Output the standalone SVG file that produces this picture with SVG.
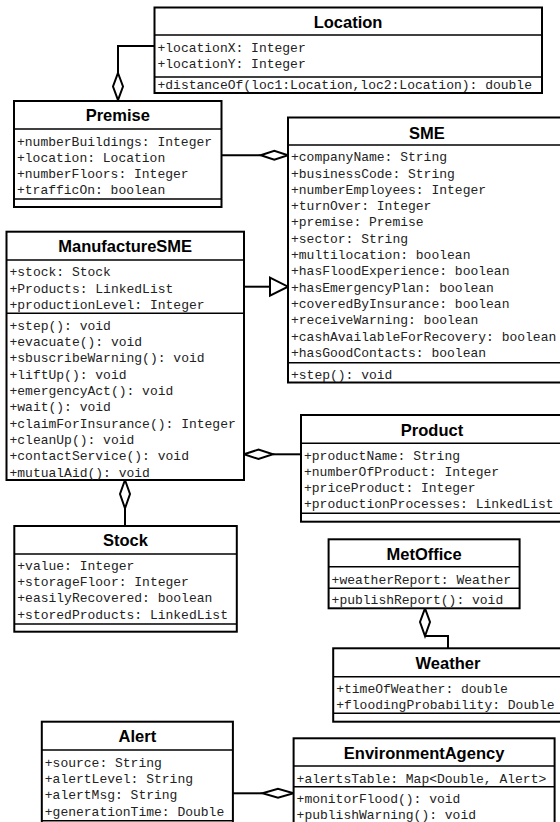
<svg xmlns="http://www.w3.org/2000/svg" width="560" height="822" viewBox="0 0 560 822">
<style>
.box{fill:#fff;stroke:#000;stroke-width:2}
.sep{stroke:#000;stroke-width:1.5;fill:none}
.t{font-family:"Liberation Sans",Arial,sans-serif;font-weight:bold;font-size:16.5px;text-anchor:middle;fill:#000}
.a{font-family:"Liberation Mono","Courier New",monospace;font-size:13px;fill:#222}
.ln{stroke:#000;stroke-width:2;fill:none}
.dia{fill:#fff;stroke:#000;stroke-width:2}
</style>
<rect width="560" height="822" fill="#fff"/>
<g id="connectors">
<polyline class="ln" points="154.5,46 118,46 118,73"/>
<polygon class="dia" points="118,73 123,86.5 118,100 113,86.5"/>
<line class="ln" x1="221.5" y1="155.3" x2="260.7" y2="155.3"/>
<polygon class="dia" points="260.7,155.3 274.3,150.8 288,155.3 274.3,159.8"/>
<line class="ln" x1="244" y1="286.7" x2="270" y2="286.7"/>
<polygon class="dia" points="270,277.7 288,286.7 270,295.7"/>
<polygon class="dia" points="244,454.3 258.5,449.6 273,454.3 258.5,459"/>
<line class="ln" x1="273" y1="454.3" x2="301" y2="454.3"/>
<polygon class="dia" points="125,480 130,494 125,508.3 120,494"/>
<line class="ln" x1="125" y1="508.3" x2="125" y2="526"/>
<polygon class="dia" points="425,608.3 430,622 425,636 420,622"/>
<polyline class="ln" points="425,636 448,636 448,648.3"/>
<line class="ln" x1="233" y1="793.3" x2="262.5" y2="793.3"/>
<polygon class="dia" points="262.5,793.3 278,788.8 293.6,793.3 278,797.8"/>
</g>
<g id="Location">
<rect class="box" x="154.5" y="7.5" width="387.5" height="85.5"/>
<line class="sep" x1="154.5" y1="35" x2="542" y2="35"/>
<line class="sep" x1="154.5" y1="77" x2="542" y2="77"/>
<text class="t" x="348" y="28">Location</text>
<text class="a" x="157.5" y="52">+locationX: Integer</text>
<text class="a" x="157.5" y="68">+locationY: Integer</text>
<text class="a" x="157.5" y="88.5">+distanceOf(loc1:Location,loc2:Location): double</text>
</g>
<g id="Premise">
<rect class="box" x="14" y="101" width="207.5" height="106"/>
<line class="sep" x1="14" y1="129" x2="221.5" y2="129"/>
<line class="sep" x1="14" y1="199" x2="221.5" y2="199"/>
<text class="t" x="117.8" y="121">Premise</text>
<text class="a" x="17" y="145.5">+numberBuildings: Integer</text>
<text class="a" x="17" y="161.8">+location: Location</text>
<text class="a" x="17" y="178.1">+numberFloors: Integer</text>
<text class="a" x="17" y="194.4">+trafficOn: boolean</text>
</g>
<g id="SME">
<rect class="box" x="288" y="117.5" width="280" height="265"/>
<line class="sep" x1="288" y1="145" x2="568" y2="145"/>
<line class="sep" x1="288" y1="362.7" x2="568" y2="362.7"/>
<text class="t" x="427" y="139">SME</text>
<text class="a" x="291" y="161.2">+companyName: String</text>
<text class="a" x="291" y="177.5">+businessCode: String</text>
<text class="a" x="291" y="193.8">+numberEmployees: Integer</text>
<text class="a" x="291" y="210.1">+turnOver: Integer</text>
<text class="a" x="291" y="226.4">+premise: Premise</text>
<text class="a" x="291" y="242.7">+sector: String</text>
<text class="a" x="291" y="259">+multilocation: boolean</text>
<text class="a" x="291" y="275.3">+hasFloodExperience: boolean</text>
<text class="a" x="291" y="291.6">+hasEmergencyPlan: boolean</text>
<text class="a" x="291" y="307.9">+coveredByInsurance: boolean</text>
<text class="a" x="291" y="324.2">+receiveWarning: boolean</text>
<text class="a" x="291" y="340.5">+cashAvailableForRecovery: boolean</text>
<text class="a" x="291" y="356.8">+hasGoodContacts: boolean</text>
<text class="a" x="291" y="378.5">+step(): void</text>
</g>
<g id="ManufactureSME">
<rect class="box" x="6.5" y="231.7" width="237.5" height="248.3"/>
<line class="sep" x1="6.5" y1="260" x2="244" y2="260"/>
<line class="sep" x1="6.5" y1="313.3" x2="244" y2="313.3"/>
<text class="t" x="125.2" y="252.3">ManufactureSME</text>
<text class="a" x="9.5" y="276.2">+stock: Stock</text>
<text class="a" x="9.5" y="292.5">+Products: LinkedList</text>
<text class="a" x="9.5" y="308.8">+productionLevel: Integer</text>
<text class="a" x="9.5" y="329.8">+step(): void</text>
<text class="a" x="9.5" y="346.1">+evacuate(): void</text>
<text class="a" x="9.5" y="362.4">+sbuscribeWarning(): void</text>
<text class="a" x="9.5" y="378.7">+liftUp(): void</text>
<text class="a" x="9.5" y="395">+emergencyAct(): void</text>
<text class="a" x="9.5" y="411.3">+wait(): void</text>
<text class="a" x="9.5" y="427.6">+claimForInsurance(): Integer</text>
<text class="a" x="9.5" y="443.9">+cleanUp(): void</text>
<text class="a" x="9.5" y="460.2">+contactService(): void</text>
<text class="a" x="9.5" y="476.5">+mutualAid(): void</text>
</g>
<g id="Product">
<rect class="box" x="301" y="415" width="265" height="106.7"/>
<line class="sep" x1="301" y1="443.3" x2="566" y2="443.3"/>
<line class="sep" x1="301" y1="513.3" x2="566" y2="513.3"/>
<text class="t" x="432" y="436.3">Product</text>
<text class="a" x="304" y="459.5">+productName: String</text>
<text class="a" x="304" y="475.8">+numberOfProduct: Integer</text>
<text class="a" x="304" y="492.1">+priceProduct: Integer</text>
<text class="a" x="304" y="508.4">+productionProcesses: LinkedList</text>
</g>
<g id="Stock">
<rect class="box" x="14.3" y="526" width="222.5" height="105.7"/>
<line class="sep" x1="14.3" y1="554" x2="236.8" y2="554"/>
<line class="sep" x1="14.3" y1="624" x2="236.8" y2="624"/>
<text class="t" x="125.5" y="546.3">Stock</text>
<text class="a" x="17.3" y="569.8">+value: Integer</text>
<text class="a" x="17.3" y="586.1">+storageFloor: Integer</text>
<text class="a" x="17.3" y="602.4">+easilyRecovered: boolean</text>
<text class="a" x="17.3" y="618.7">+storedProducts: LinkedList</text>
</g>
<g id="MetOffice">
<rect class="box" x="328.6" y="539.3" width="191" height="69"/>
<line class="sep" x1="328.6" y1="566.7" x2="519.6" y2="566.7"/>
<line class="sep" x1="328.6" y1="588.3" x2="519.6" y2="588.3"/>
<text class="t" x="424.1" y="559.6">MetOffice</text>
<text class="a" x="331.6" y="583.8">+weatherReport: Weather</text>
<text class="a" x="331.6" y="603.8">+publishReport(): void</text>
</g>
<g id="Weather">
<rect class="box" x="333.2" y="648.3" width="232" height="73.4"/>
<line class="sep" x1="333.2" y1="676.7" x2="565.2" y2="676.7"/>
<line class="sep" x1="333.2" y1="713.3" x2="565.2" y2="713.3"/>
<text class="t" x="448" y="669">Weather</text>
<text class="a" x="336.2" y="692.8">+timeOfWeather: double</text>
<text class="a" x="336.2" y="709.1">+floodingProbability: Double</text>
</g>
<g id="Alert">
<rect class="box" x="41.8" y="721.7" width="191.1" height="110"/>
<line class="sep" x1="41.8" y1="750" x2="232.9" y2="750"/>
<line class="sep" x1="41.8" y1="820.7" x2="232.9" y2="820.7"/>
<text class="t" x="137.4" y="742.3">Alert</text>
<text class="a" x="44.8" y="766.8">+source: String</text>
<text class="a" x="44.8" y="783.1">+alertLevel: String</text>
<text class="a" x="44.8" y="799.4">+alertMsg: String</text>
<text class="a" x="44.8" y="815.7">+generationTime: Double</text>
</g>
<g id="EnvironmentAgency">
<rect class="box" x="293.6" y="738.3" width="261" height="100"/>
<line class="sep" x1="293.6" y1="766" x2="554.6" y2="766"/>
<line class="sep" x1="293.6" y1="786.7" x2="554.6" y2="786.7"/>
<text class="t" x="424.1" y="759">EnvironmentAgency</text>
<text class="a" x="296.6" y="782.8">+alertsTable: Map&lt;Double, Alert&gt;</text>
<text class="a" x="296.6" y="802.8">+monitorFlood(): void</text>
<text class="a" x="296.6" y="819.1">+publishWarning(): void</text>
</g>
</svg>
